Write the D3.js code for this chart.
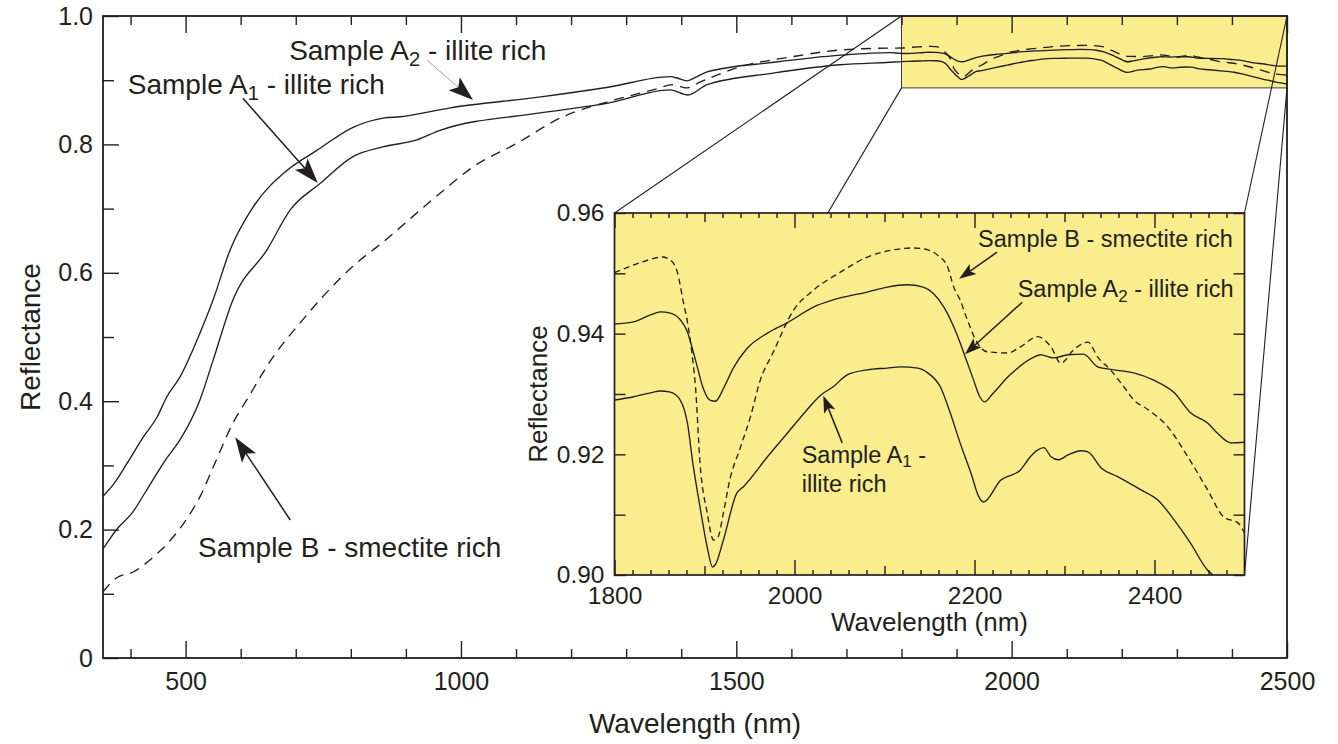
<!DOCTYPE html>
<html><head><meta charset="utf-8">
<script src="https://cdn.jsdelivr.net/npm/d3@7"></script>
<style>
body{margin:0;background:#fff}
svg{display:block}
text{font-family:"Liberation Sans",Arial,Helvetica,sans-serif;fill:#231f20}
</style>
</head><body>
<svg id="chart" width="1338" height="744"></svg>
<script>
// ---------------- DATA (wavelength nm, reflectance) ----------------
const sampleA2 = [
 [350,0.252],[372,0.274],[395,0.305],[423,0.344],[448,0.375],[466,0.407],[490,0.438],[526,0.506],[550,0.558],
 [581,0.636],[623,0.703],[685,0.760],[739,0.791],[805,0.827],[859,0.841],[890,0.843],[981,0.857],[1145,0.874],
 [1267,0.889],[1380,0.9055],[1394,0.903],[1410,0.899],[1425,0.904],[1447,0.913],[1569,0.928],[1690,0.939],[1781,0.943],
 [1800,0.9416],[1820,0.9419],[1840,0.9431],[1851,0.9436],[1862,0.9434],[1873,0.9423],[1881,0.9403],[1886,0.9378],
 [1892,0.9345],[1898,0.9312],[1906,0.9290],[1912,0.9288],[1922,0.9312],[1932,0.9343],[1947,0.9375],[1970,0.9401],
 [1992,0.9418],[2021,0.9444],[2043,0.9456],[2081,0.9469],[2103,0.9477],[2125,0.9481],[2143,0.9477],[2154,0.9467],
 [2166,0.9444],[2177,0.9411],[2184,0.9385],[2190,0.9360],[2199,0.9323],[2206,0.9295],[2211,0.9287],[2220,0.9300],
 [2237,0.9328],[2266,0.9361],[2273,0.9365],[2288,0.9360],[2304,0.9365],[2321,0.9366],[2337,0.9345],[2355,0.9340],
 [2377,0.9335],[2399,0.9323],[2422,0.9302],[2440,0.9269],[2459,0.9252],[2470,0.9235],[2485,0.9219],[2500,0.9220]
];
const sampleA1 = [
 [350,0.170],[377,0.2025],[403,0.226],[426,0.257],[463,0.308],[490,0.340],[526,0.402],[550,0.464],[586,0.558],
 [648,0.636],[690,0.698],[744,0.739],[804,0.781],[858,0.796],[920,0.807],[962,0.822],[1144,0.849],[1265,0.864],
 [1380,0.885],[1412,0.877],[1447,0.893],[1567,0.911],[1688,0.924],[1779,0.928],
 [1800,0.9290],[1820,0.9295],[1840,0.9302],[1851,0.9305],[1862,0.9303],[1873,0.9290],[1881,0.9252],[1887,0.9186],
 [1895,0.9113],[1903,0.9046],[1909,0.9013],[1912,0.9017],[1921,0.9058],[1936,0.9136],[1943,0.9146],[1970,0.9196],
 [1992,0.9235],[2014,0.9274],[2029,0.9298],[2043,0.9312],[2059,0.9332],[2081,0.9340],[2103,0.9343],[2118,0.9345],
 [2137,0.9343],[2148,0.9335],[2162,0.9312],[2173,0.9269],[2184,0.9219],[2196,0.9169],[2205,0.9129],[2210,0.9121],
 [2229,0.9157],[2251,0.9174],[2262,0.9196],[2270,0.9207],[2277,0.9211],[2285,0.9196],[2293,0.9191],[2304,0.9199],
 [2318,0.9206],[2326,0.9204],[2341,0.9177],[2359,0.9163],[2385,0.9141],[2404,0.9124],[2422,0.9091],[2440,0.9053],
 [2459,0.9008],[2465,0.9000],[2480,0.8970],[2500,0.8940]
];
const sampleB = [
 [350,0.103],[375,0.125],[405,0.134],[441,0.157],[477,0.188],[512,0.230],[526,0.251],[550,0.297],[586,0.366],
 [611,0.402],[659,0.469],[708,0.522],[744,0.558],[817,0.620],[847,0.640],[962,0.724],[1022,0.765],[1102,0.802],
 [1180,0.841],[1265,0.866],[1349,0.885],[1385,0.893],[1410,0.888],[1434,0.897],[1507,0.921],[1598,0.936],
 [1688,0.947],[1779,0.950],
 [1800,0.9501],[1813,0.9509],[1831,0.9519],[1842,0.9524],[1853,0.9527],[1862,0.9522],[1870,0.9501],[1876,0.9456],
 [1882,0.9411],[1887,0.9356],[1890,0.9312],[1895,0.9186],[1903,0.9103],[1910,0.9058],[1915,0.9063],[1921,0.9103],
 [1928,0.9157],[1940,0.9212],[1951,0.9262],[1962,0.9323],[1976,0.9368],[1999,0.9439],[2021,0.9472],[2051,0.9502],
 [2081,0.9527],[2110,0.9539],[2132,0.9542],[2148,0.9539],[2159,0.9530],[2170,0.9511],[2177,0.9477],[2184,0.9456],
 [2192,0.9423],[2203,0.9385],[2214,0.9370],[2237,0.9368],[2251,0.9378],[2270,0.9395],[2285,0.9378],[2296,0.9351],
 [2310,0.9373],[2326,0.9386],[2337,0.9361],[2351,0.9340],[2366,0.9312],[2377,0.9290],[2393,0.9274],[2415,0.9245],
 [2437,0.9196],[2459,0.9141],[2477,0.9096],[2493,0.9086],[2500,0.9070]
];
const mainXTicks = [500,1000,1500,2000,2500];
const mainYTicks = [0,0.2,0.4,0.6,0.8,1.0];
const insetXTicks = [1800,2000,2200,2400];
const insetYTicks = [0.90,0.92,0.94,0.96];
const mainXDomain = [350,2500];
const mainYDomain = [0,1];
const insetXDomain = [1800,2500];
const insetYDomain = [0.90,0.96];
const zoomWindowY = [0.888,1.0];

// annotations: label text, text anchor, tail, tip (data coords)
const mainNotes = [
 {pre:"Sample A", sub:"2", post:" - illite rich", text:[688,0.9315], tail:[938,0.9315], tip:[1022,0.869], thin:true},
 {pre:"Sample A", sub:"1", post:" - illite rich", text:[395,0.8785], tail:[604,0.872], tip:[740,0.740]},
 {pre:"Sample B - smectite rich", sub:"", post:"", text:[522.5,0.157], tail:[690,0.215], tip:[590,0.344]}
];
const insetNotes = [
 {pre:"Sample B - smectite rich", sub:"", post:"", text:[2204,0.9544], tail:[2225,0.9535], tip:[2183,0.9491]},
 {pre:"Sample A", sub:"2", post:" - illite rich", text:[2248,0.9461], tail:[2253,0.9452], tip:[2189.4,0.9366]},
 {pre:"Sample A", sub:"1", post:" -", line2:"illite rich", text:[2008,0.9186], tail:[2053,0.9219], tip:[2032,0.9297]}
];

// ---------------- LAYOUT ----------------
const INK = "#231f20", YELLOW = "#f9ed8d";
const svg = d3.select("#chart");
const M = {l:103, r:1287, t:16, b:658};
const I = {l:614.5, r:1244.5, t:213, b:575};

const x = d3.scaleLinear().domain(mainXDomain).range([M.l, M.r]);
const y = d3.scaleLinear().domain(mainYDomain).range([M.b, M.t]);
const xi = d3.scaleLinear().domain(insetXDomain).range([I.l, I.r]);
const yi = d3.scaleLinear().domain(insetYDomain).range([I.b, I.t]);

const defs = svg.append("defs");
defs.append("clipPath").attr("id","clipMain").append("rect")
  .attr("x",M.l).attr("y",M.t).attr("width",M.r-M.l).attr("height",M.b-M.t);
defs.append("clipPath").attr("id","clipInset").append("rect")
  .attr("x",I.l).attr("y",I.t).attr("width",I.r-I.l).attr("height",I.b-I.t);

// zoom window highlight in main plot
svg.append("rect")
  .attr("x",x(insetXDomain[0])).attr("y",y(zoomWindowY[1]))
  .attr("width",x(insetXDomain[1])-x(insetXDomain[0]))
  .attr("height",y(zoomWindowY[0])-y(zoomWindowY[1]))
  .attr("fill",YELLOW).attr("stroke","#3a3a3a").attr("stroke-width",1);

// main curves
const lineMain = d3.line().x(d=>x(d[0])).y(d=>y(d[1])).curve(d3.curveMonotoneX);
const gMain = svg.append("g").attr("clip-path","url(#clipMain)");
[[sampleA2,null],[sampleA1,null],[sampleB,"10,7"]].forEach(([s,dash])=>{
  gMain.append("path").datum(s).attr("d",lineMain).attr("fill","none")
    .attr("stroke",INK).attr("stroke-width",1.35).attr("stroke-dasharray",dash);
});

// main axes
function styleAxis(g){ g.select(".domain").remove(); g.selectAll("line").attr("stroke",INK).attr("stroke-width",1.4);
  g.selectAll("text").attr("fill",INK).style("font-family",'"Liberation Sans",Arial,sans-serif'); }
const minorX = d3.range(400,2500,100).filter(v=>v%500!==0);
const minorY = [0.1,0.3,0.5,0.7,0.9];
svg.append("g").attr("transform",`translate(0,${M.b})`)
  .call(d3.axisBottom(x).tickValues(mainXTicks).tickSize(-17).tickPadding(14).tickFormat(d3.format("d")))
  .call(styleAxis).selectAll("text").attr("font-size",25);
svg.append("g").attr("transform",`translate(0,${M.b})`)
  .call(d3.axisBottom(x).tickValues(minorX).tickSize(-9).tickFormat("")).call(styleAxis);
svg.append("g").attr("transform",`translate(0,${M.t})`)
  .call(d3.axisTop(x).tickValues(mainXTicks).tickSize(-17).tickFormat("")).call(styleAxis);
svg.append("g").attr("transform",`translate(0,${M.t})`)
  .call(d3.axisTop(x).tickValues(minorX).tickSize(-9).tickFormat("")).call(styleAxis);
svg.append("g").attr("transform",`translate(${M.l},0)`)
  .call(d3.axisLeft(y).tickValues(mainYTicks).tickSize(-16).tickPadding(10).tickFormat(d=>d===0?"0":d3.format(".1f")(d)))
  .call(styleAxis).selectAll("text").attr("font-size",25);
svg.append("g").attr("transform",`translate(${M.l},0)`)
  .call(d3.axisLeft(y).tickValues(minorY).tickSize(-11).tickFormat("")).call(styleAxis);
svg.append("rect").attr("x",M.l).attr("y",M.t).attr("width",M.r-M.l).attr("height",M.b-M.t)
  .attr("fill","none").attr("stroke",INK).attr("stroke-width",1.8);

svg.append("text").attr("x",(M.l+M.r)/2).attr("y",733).attr("text-anchor","middle")
  .attr("font-size",28).text("Wavelength (nm)");
svg.append("text").attr("transform",`translate(40,${(M.t+M.b)/2}) rotate(-90)`).attr("text-anchor","middle")
  .attr("font-size",28).text("Reflectance");

// connector lines (window corners -> inset corners)
const wx0 = x(insetXDomain[0]), wx1 = x(insetXDomain[1]), wy0 = y(zoomWindowY[1]), wy1 = y(zoomWindowY[0]);
[[wx0,wy0,I.l,I.t],[wx0,wy1,I.l,I.b],[wx1,wy0,I.r,I.t],[wx1,wy1,I.r,I.b]].forEach(c=>{
  svg.append("line").attr("x1",c[0]).attr("y1",c[1]).attr("x2",c[2]).attr("y2",c[3])
    .attr("stroke",INK).attr("stroke-width",1.1);
});

// inset
svg.append("rect").attr("x",I.l).attr("y",I.t).attr("width",I.r-I.l).attr("height",I.b-I.t)
  .attr("fill",YELLOW);
const lineInset = d3.line().x(d=>xi(d[0])).y(d=>yi(d[1])).curve(d3.curveMonotoneX);
const gIn = svg.append("g").attr("clip-path","url(#clipInset)");
[[sampleA2,null],[sampleA1,null],[sampleB,"6,4"]].forEach(([s,dash])=>{
  gIn.append("path").datum(s.filter(d=>d[0]>=1790)).attr("d",lineInset).attr("fill","none")
    .attr("stroke",INK).attr("stroke-width",1.35).attr("stroke-dasharray",dash);
});
const inX20 = d3.range(1820,2500,20).filter(v=>v%100!==0);
const inX100 = d3.range(1900,2500,200);
const inXall = d3.range(1800,2501,200);
const inY01 = d3.range(0,7).map(i=>+(0.90+i*0.01).toFixed(2));
[[I.b,d3.axisBottom],[I.t,d3.axisTop]].forEach(([yy,ax],k)=>{
  svg.append("g").attr("transform",`translate(0,${yy})`).call(ax(xi).tickValues(inX20).tickSize(-5).tickFormat("")).call(styleAxis);
  svg.append("g").attr("transform",`translate(0,${yy})`).call(ax(xi).tickValues(inX100).tickSize(-9).tickFormat("")).call(styleAxis);
  const g = svg.append("g").attr("transform",`translate(0,${yy})`)
    .call(ax(xi).tickValues(k===0?insetXTicks:inXall).tickSize(-15).tickPadding(12).tickFormat(k===0?d3.format("d"):""))
    .call(styleAxis);
  g.selectAll("text").attr("font-size",24.5);
});
svg.append("g").attr("transform",`translate(${I.l},0)`)
  .call(d3.axisLeft(yi).tickValues(inY01).tickSize(-11).tickFormat("")).call(styleAxis);
svg.append("g").attr("transform",`translate(${I.l},0)`)
  .call(d3.axisLeft(yi).tickValues(insetYTicks).tickSize(0).tickPadding(10).tickFormat(d3.format(".2f")))
  .call(styleAxis).selectAll("text").attr("font-size",24.5);
svg.append("g").attr("transform",`translate(${I.r},0)`)
  .call(d3.axisRight(yi).tickValues(inY01).tickSize(-11).tickFormat("")).call(styleAxis);
svg.append("rect").attr("x",I.l).attr("y",I.t).attr("width",I.r-I.l).attr("height",I.b-I.t)
  .attr("fill","none").attr("stroke",INK).attr("stroke-width",1.7);
svg.append("text").attr("x",(I.l+I.r)/2).attr("y",631).attr("text-anchor","middle")
  .attr("font-size",26).text("Wavelength (nm)");
svg.append("text").attr("transform",`translate(547,${(I.t+I.b)/2}) rotate(-90)`).attr("text-anchor","middle")
  .attr("font-size",26).text("Reflectance");

// annotations
function arrowHead(tail, tip, len, hw, notch){
  const dx = tip[0]-tail[0], dy = tip[1]-tail[1], L = Math.hypot(dx,dy);
  const ux = dx/L, uy = dy/L, nx = -uy, ny = ux;
  const bx = tip[0]-ux*len, by = tip[1]-uy*len;
  return {path:`M${tip[0]},${tip[1]}L${bx+nx*hw},${by+ny*hw}L${tip[0]-ux*(len-notch)},${tip[1]-uy*(len-notch)}L${bx-nx*hw},${by-ny*hw}Z`,
          end:[tip[0]-ux*(len-notch), tip[1]-uy*(len-notch)]};
}
function drawNotes(notes, sx, sy, fs, len, hw){
  notes.forEach(n=>{
    const t = svg.append("text").attr("x",sx(n.text[0])).attr("y",sy(n.text[1])).attr("font-size",fs);
    t.append("tspan").text(n.pre);
    if(n.sub){
      t.append("tspan").attr("font-size",fs*0.72).attr("dy",fs*0.2).text(n.sub);
      t.append("tspan").attr("dy",-fs*0.2).text(n.post);
    }
    if(n.line2){
      svg.append("text").attr("x",sx(n.text[0])).attr("y",sy(n.text[1])+fs*1.24).attr("font-size",fs).text(n.line2);
    }
    const tail=[sx(n.tail[0]),sy(n.tail[1])], tip=[sx(n.tip[0]),sy(n.tip[1])];
    const a = arrowHead(tail,tip,len,hw,len*0.22);
    svg.append("line").attr("x1",tail[0]).attr("y1",tail[1]).attr("x2",a.end[0]).attr("y2",a.end[1])
      .attr("stroke",n.thin?"#9a9a9a":INK).attr("stroke-width",n.thin?0.9:1.5);
    svg.append("path").attr("d",a.path).attr("fill",INK);
  });
}
drawNotes(mainNotes, x, y, 28, 25, 8.5);
drawNotes(insetNotes, xi, yi, 23.5, 17, 6);
</script>
</body></html>
